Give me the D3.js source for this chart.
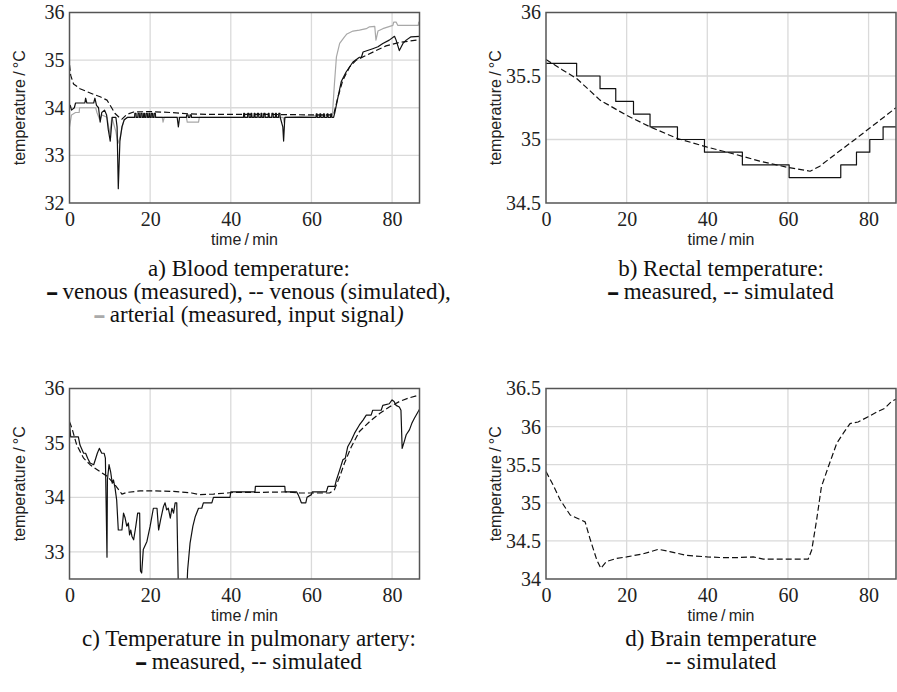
<!DOCTYPE html>
<html>
<head>
<meta charset="utf-8">
<script src="https://cdn.jsdelivr.net/npm/d3@7"></script>
<style>
  body { margin: 0; background: #fff; }
  svg { display: block; }
</style>
</head>
<body>
<div id="chart"></div>
<script>
// time axis ticks (minutes) shared by every panel
const timeTicks = [0, 20, 40, 60, 80];

// a) blood temperature
const bloodTicks = [32, 33, 34, 35, 36];
const bloodVenousMeasured = [
  [0,34.0],[0.2,34.05],[0.5,33.95],[1.2,34.0],[1.5,34.1],[3.8,34.1],[4,34.2],[4.3,34.1],[6,34.1],[6.3,34.2],
  [6.7,34.05],[7.2,34.0],[7.6,33.7],[8.0,33.9],[8.7,33.95],[9.2,33.85],[9.6,33.55],[10.1,33.3],[10.6,33.8],
  [11.5,33.8],[11.8,33.6],[12.1,32.3],[12.5,33.3],[13,33.6],[13.6,33.75],[14.4,33.8],
  [16.15,33.8],[16.2,33.88],[16.5,33.88],[16.55,33.8],[16.95,33.8],[17.0,33.88],[17.3,33.88],[17.35,33.8],
  [17.65,33.8],[17.7,33.88],[18.0,33.88],[18.05,33.8],[18.35,33.8],[18.4,33.88],[18.6,33.88],[18.65,33.8],
  [18.95,33.8],[19.0,33.88],[19.3,33.88],[19.35,33.8],[19.65,33.8],[19.7,33.88],[19.9,33.88],[19.95,33.8],
  [20.25,33.8],[20.3,33.88],[20.6,33.88],[20.65,33.8],[20.95,33.8],[21.0,33.88],[21.3,33.88],[21.35,33.8],
  [26.7,33.8],[27,33.6],[27.3,33.8],[29,33.8],[29.05,33.85],[29.4,33.85],[29.45,33.8],[29.85,33.8],
  [29.9,33.85],[30.2,33.85],[30.25,33.8],
  [43.15,33.8],[43.2,33.88],[43.4,33.88],[43.45,33.8],[44.15,33.8],[44.2,33.88],[44.5,33.88],[44.55,33.8],
  [44.95,33.8],[45.0,33.88],[45.2,33.88],[45.25,33.8],[45.75,33.8],[45.8,33.88],[46.0,33.88],[46.05,33.8],
  [46.55,33.8],[46.6,33.88],[46.9,33.88],[46.95,33.8],[47.45,33.8],[47.5,33.88],[47.7,33.88],[47.75,33.8],
  [48.15,33.8],[48.2,33.88],[48.5,33.88],[48.55,33.8],[49.25,33.8],[49.3,33.88],[49.5,33.88],[49.55,33.8],
  [50.15,33.8],[50.2,33.88],[50.5,33.88],[50.55,33.8],[51.05,33.8],[51.1,33.88],[51.3,33.88],[51.35,33.8],
  [51.85,33.8],[51.9,33.88],[52.2,33.88],[52.25,33.8],
  [52.9,33.6],[53.1,33.3],[53.4,33.8],
  [61.15,33.8],[61.2,33.87],[61.4,33.87],[61.45,33.8],[62.05,33.8],[62.1,33.87],[62.3,33.87],[62.35,33.8],
  [62.95,33.8],[63.0,33.87],[63.2,33.87],[63.25,33.8],[63.85,33.8],[63.9,33.87],[64.1,33.87],[64.15,33.8],
  [64.75,33.8],[64.8,33.87],[65.0,33.87],[65.05,33.8],
  [65.5,33.8],[65.8,33.9],[66.6,34.23],
  [67.4,34.55],[68.6,34.75],[70.3,34.96],[71.9,35.06],[72.4,35.06],[72.8,35.17],[75.2,35.24],[76.5,35.28],
  [77.7,35.35],[79.3,35.42],[80.6,35.5],[81,35.42],[81.8,35.2],[82.7,35.35],[83.5,35.42],[84.7,35.49],[86.8,35.5]
];
const bloodVenousSimulated = [
  [0,34.9],[0.3,34.68],[1,34.5],[2.6,34.4],[4,34.35],[6,34.28],[7.6,34.23],[9.3,34.16],[10.3,34.02],
  [11.3,33.88],[12.3,33.8],[13,33.76],[14.2,33.86],[15.9,33.91],[20,33.92],[25,33.9],[30,33.87],[35,33.86],
  [40,33.86],[50,33.86],[60,33.85],[65.5,33.85],[66.6,34.23],[67.8,34.58],[69.5,34.86],[71.1,35.0],
  [73.6,35.1],[76,35.2],[78.5,35.3],[81.8,35.37],[86.8,35.43]
];
const bloodArterial = [
  [0,33.6],[0.5,33.85],[1.5,33.9],[2.4,33.9],[2.5,34.0],[6.5,34.0],[6.8,33.9],[7.5,33.75],[8,33.85],[9.3,33.8],
  [10,33.45],[10.5,33.8],[11.5,33.5],[12,33.25],[12.6,33.4],[13.5,33.75],[14.5,33.8],[23,33.8],[23.2,33.7],
  [23.5,33.8],[29,33.8],[29.2,33.7],[32,33.7],[32.2,33.8],[53,33.8],[53.2,33.7],[53.5,33.8],[65.2,33.85],
  [65.7,34.5],[66.2,35.07],[67,35.35],[68.2,35.49],[68.8,35.55],[70.3,35.61],[71.9,35.63],[73.6,35.66],
  [74.4,35.7],[75.7,35.71],[76,35.42],[76.5,35.61],[77.7,35.66],[80.2,35.73],[80.4,35.8],[81,35.8],
  [81.4,35.73],[86.5,35.73],[86.6,35.8],[86.8,35.8]
];

// b) rectal temperature
const rectalTicks = [34.5, 35, 35.5, 36];
const rectalStepTimes = [0, 7.6, 13.4, 17.3, 21.7, 25.8, 32.6, 39.3, 48.7, 60.3, 73.1, 77.0, 80.3, 83.6, 86.8];
const rectalStepValues = [35.6, 35.5, 35.4, 35.3, 35.2, 35.1, 35.0, 34.9, 34.8, 34.7, 34.8, 34.9, 35.0, 35.1, 35.1];
const rectalSimulated = [
  [0,35.63],[4,35.55],[7.6,35.48],[10,35.41],[13.4,35.31],[20,35.19],[25.8,35.1],[32.4,35.01],[40,34.94],
  [47.3,34.88],[53,34.83],[60,34.78],[65.5,34.75],[67.9,34.79],[72,34.89],[76.2,34.99],[80.3,35.09],[86.8,35.25]
];

// c) pulmonary artery
const pulmTicks = [33, 34, 35, 36];
const pulmMeasured = [
  [0,35.36],[0.3,35.11],[2.2,35.11],[2.6,34.96],[3.5,34.81],[4,34.81],[4.5,34.72],[5.1,34.63],[6,34.6],
  [6.4,34.69],[6.9,34.81],[7.4,34.9],[8,34.81],[8.6,34.81],[8.9,34.72],[9.3,32.9],[9.4,34.32],[9.8,34.6],
  [10.2,34.47],[10.6,34.26],[10.9,34.32],[11.3,34.17],[11.7,33.95],[12.1,33.4],[13,33.4],[13.4,33.71],
  [13.8,33.62],[14.2,33.47],[14.6,33.53],[14.9,33.31],[15.2,33.4],[15.5,33.28],[15.9,33.22],[16.3,33.4],
  [16.5,33.5],[16.9,33.71],[17.4,33.71],[17.6,32.65],[17.9,32.61],[18.3,33.04],[19.2,33.19],[20,33.47],
  [20.8,33.8],[21.7,33.8],[22.1,33.4],[22.6,33.59],[23.3,33.83],[23.7,33.9],[24.1,33.77],[24.5,33.8],
  [25,33.62],[25.4,33.8],[25.8,33.71],[26.2,33.9],[26.6,33.9],[27,32.3],[29.1,32.3],[29.3,32.67],[29.9,33.16],
  [30.6,33.47],[31.2,33.65],[32,33.8],[32.8,33.8],[33.2,33.9],[35.3,33.9],[35.7,34.0],[39.8,34.0],[40,34.1],
  [46,34.1],[46.1,34.2],[53.4,34.2],[53.5,34.1],[56.3,34.1],[56.7,34.05],[57.1,33.98],[57.5,33.9],[58.6,33.9],
  [58.9,34.0],[60,34.05],[60.2,34.1],[63.7,34.1],[64.1,34.2],[65.8,34.2],[66.2,34.32],[67,34.5],[67.8,34.69],
  [68.4,34.72],[69,34.93],[69.9,35.05],[70.7,35.18],[71.9,35.33],[72.8,35.42],[73.6,35.51],[74.8,35.51],
  [75.2,35.6],[77.3,35.6],[77.7,35.69],[79.3,35.72],[80,35.79],[80.5,35.76],[81,35.69],[81.8,35.66],
  [82.2,35.6],[82.5,34.9],[83,35.02],[83.5,35.15],[84.3,35.24],[84.9,35.36],[85.5,35.45],[86.8,35.62]
];
const pulmSimulated = [
  [0,35.39],[0.6,35.27],[1.8,34.96],[3.5,34.72],[5.1,34.6],[7.6,34.47],[9.3,34.39],[11.3,34.23],[13,34.06],
  [14.2,34.09],[17.5,34.12],[20.8,34.12],[25.8,34.11],[30.3,34.08],[32.4,34.05],[35.7,34.06],[40.7,34.09],
  [45.6,34.09],[53.8,34.1],[57.1,34.08],[64.5,34.08],[65.7,34.14],[67,34.38],[68.2,34.63],[69.9,34.93],
  [71.9,35.21],[74.4,35.39],[76.9,35.54],[79.3,35.66],[81.8,35.76],[84.3,35.83],[86.8,35.88]
];

// d) brain temperature
const brainTicks = [34, 34.5, 35, 35.5, 36, 36.5];
const brainSimulated = [
  [0,35.41],[1.8,35.23],[3.5,35.04],[6,34.84],[7.6,34.8],[9.7,34.75],[10.9,34.53],[12.6,34.25],[13.6,34.14],
  [15,34.23],[17.5,34.27],[20,34.29],[24.1,34.33],[27.9,34.39],[30.7,34.36],[34.9,34.31],[40,34.29],[44,34.28],
  [47.3,34.28],[51.4,34.29],[53.9,34.26],[60,34.26],[65,34.26],[65.9,34.38],[67.1,34.77],[68.3,35.21],
  [70,35.47],[72.1,35.78],[73.7,35.91],[75.4,36.04],[77.4,36.06],[79.9,36.13],[82,36.19],[84,36.24],
  [85.7,36.33],[86.8,36.36]
];

const W = 897, H = 692;
const tMax = 86.8;
const plotW = 350, plotH = 190.5;
const serif = "'Liberation Serif', 'Times New Roman', serif";
const sans = "'Liberation Sans', Arial, sans-serif";

const svg = d3.select("#chart").append("svg")
  .attr("width", W).attr("height", H);
svg.append("rect").attr("width", W).attr("height", H).attr("fill", "#fff");

const styles = {
  measured: { stroke: "#111", width: 1.2, dash: null },
  simulated: { stroke: "#111", width: 1.2, dash: "6,3" },
  arterial: { stroke: "#a8a8a8", width: 1.2, dash: null }
};

function styleTicks(sel) {
  sel.select(".domain").remove();
  sel.attr("font-family", null).attr("font-size", null);
  sel.selectAll("text")
    .style("font-family", serif)
    .style("font-size", "20px")
    .style("fill", "#222");
}

function drawPanel(id, left, top, yDomain, yTicks, series) {
  const x = d3.scaleLinear().domain([0, tMax]).range([0, plotW]);
  const y = d3.scaleLinear().domain(yDomain).range([plotH, 0]);

  const g = svg.append("g").attr("transform", `translate(${left},${top})`);

  g.append("clipPath").attr("id", "clip-" + id)
    .append("rect").attr("width", plotW).attr("height", plotH);

  // grid
  g.append("g")
    .selectAll("line")
    .data(timeTicks.filter(d => d > 0))
    .join("line")
    .attr("x1", d => x(d)).attr("x2", d => x(d))
    .attr("y1", 0).attr("y2", plotH)
    .attr("stroke", "#dadada").attr("stroke-width", 1.3);
  g.append("g")
    .selectAll("line")
    .data(yTicks.filter(d => d > yDomain[0] && d < yDomain[1]))
    .join("line")
    .attr("x1", 0).attr("x2", plotW)
    .attr("y1", d => y(d)).attr("y2", d => y(d))
    .attr("stroke", "#dadada").attr("stroke-width", 1.3);

  // axes (labels only)
  g.append("g")
    .call(d3.axisLeft(y).tickValues(yTicks).tickSize(0).tickPadding(5).tickFormat(d => d))
    .call(styleTicks);

  g.append("g")
    .attr("transform", `translate(0,${plotH})`)
    .call(d3.axisBottom(x).tickValues(timeTicks).tickSize(0).tickPadding(9).tickFormat(d => d))
    .call(styleTicks);

  g.append("text")
    .style("font-family", sans).style("font-size", "16px").style("fill", "#222")
    .attr("x", plotW / 2).attr("y", plotH + 42)
    .attr("text-anchor", "middle")
    .text("time\u2009/\u2009min");

  g.append("text")
    .style("font-family", sans).style("font-size", "16px").style("fill", "#222")
    .attr("transform", `translate(-45,${plotH / 2}) rotate(-90)`)
    .attr("text-anchor", "middle")
    .text("temperature\u2009/\u2009°C");

  // curves
  const plot = g.append("g").attr("clip-path", `url(#clip-${id})`);
  series.forEach(s => {
    const st = styles[s.kind];
    const line = d3.line()
      .x(d => x(d[0])).y(d => y(d[1]))
      .curve(s.step ? d3.curveStepAfter : d3.curveLinear);
    plot.append("path")
      .datum(s.data)
      .attr("fill", "none")
      .attr("stroke", st.stroke)
      .attr("stroke-width", st.width)
      .attr("stroke-dasharray", st.dash)
      .attr("stroke-linejoin", "round")
      .attr("d", line);
  });

  // frame
  g.append("rect")
    .attr("width", plotW).attr("height", plotH)
    .attr("fill", "none").attr("stroke", "#555").attr("stroke-width", 1.5);
}

drawPanel("a", 69.5, 12.5, [32, 36], bloodTicks, [
  { kind: "arterial", data: bloodArterial },
  { kind: "measured", data: bloodVenousMeasured },
  { kind: "simulated", data: bloodVenousSimulated }
]);

drawPanel("b", 546, 12.5, [34.5, 36], rectalTicks, [
  { kind: "measured", step: true, data: rectalStepTimes.map((t, i) => [t, rectalStepValues[i]]) },
  { kind: "simulated", data: rectalSimulated }
]);

drawPanel("c", 69.5, 388.5, [32.5, 36], pulmTicks, [
  { kind: "measured", data: pulmMeasured },
  { kind: "simulated", data: pulmSimulated }
]);

drawPanel("d", 546, 388.5, [34, 36.5], brainTicks, [
  { kind: "simulated", data: brainSimulated }
]);

// captions
const dash = "\u2501";
function caption(cx, y0, lines) {
  const t = svg.append("text")
    .style("font-family", serif).style("font-size", "23px").style("fill", "#111")
    .attr("text-anchor", "middle");
  lines.forEach((parts, i) => {
    const ln = t.append("tspan").attr("x", cx).attr("y", y0 + i * 23);
    parts.forEach(p => {
      const sp = ln.append("tspan").text(p.text);
      if (p.mark) sp.style("font-family", "'DejaVu Sans'").style("font-size", "16px").style("fill", p.mark);
      if (p.italic) sp.style("font-style", "italic");
    });
  });
}

caption(249, 276, [
  [{ text: "a) Blood temperature:" }],
  [{ text: dash, mark: "#111" }, { text: " venous (measured), -- venous (simulated)," }],
  [{ text: dash, mark: "#aaa" }, { text: " arterial (measured, input signal" }, { text: ")", italic: true }]
]);
caption(721, 276, [
  [{ text: "b) Rectal temperature:" }],
  [{ text: dash, mark: "#111" }, { text: " measured, -- simulated" }]
]);
caption(249, 646, [
  [{ text: "c) Temperature in pulmonary artery:" }],
  [{ text: dash, mark: "#111" }, { text: " measured, -- simulated" }]
]);
caption(721, 646, [
  [{ text: "d) Brain temperature" }],
  [{ text: "-- simulated" }]
]);
</script>
</body>
</html>
